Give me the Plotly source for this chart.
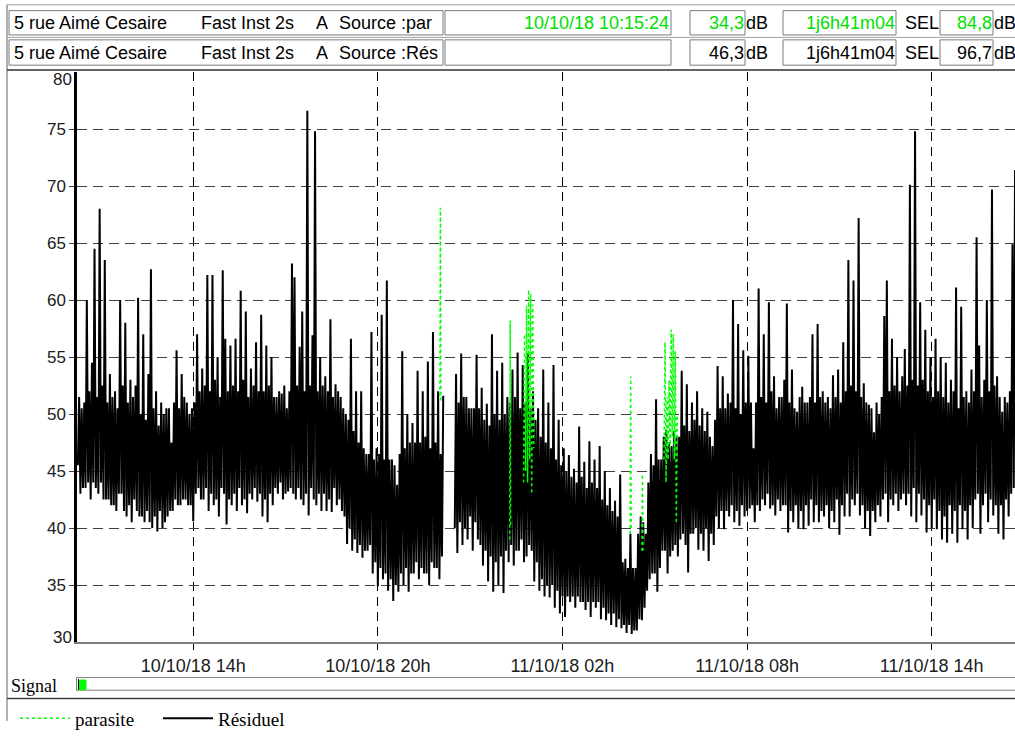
import plotly.graph_objects as go
import pandas as pd

# ---------------- data ----------------
START = "2018-10-10 10:15"
STEP = "150s"   # 2.5 minutes between plotted readings

# Résiduel, dB(A). For each hour (HH:15 .. HH+1:12:30) two lists:
#   *_pk : band edges and peaks, one per 5 minutes
#   *_md : the opposite side of the dense band in the same 5-minute slot
d10_h10_pk = [45.5, 50.5, 43.5, 60.0, 44.0, 54.5, 64.5, 43.5, 68.0, 44.0, 63.5, 42.5]
d10_h10_md = [51.5, 43.0, 51.0, 43.5, 52.0, 42.5, 44.0, 51.5, 43.0, 52.5, 42.5, 51.0]
d10_h11_pk = [53.5, 42.0, 52.0, 41.5, 60.0, 43.0, 58.0, 41.0, 53.0, 40.5, 52.5, 60.2]
d10_h11_md = [42.5, 51.5, 42.0, 50.5, 43.0, 52.5, 41.5, 51.0, 42.0, 51.5, 42.5, 41.5]
d10_h12_pk = [41.0, 57.0, 40.5, 53.5, 62.7, 40.0, 52.0, 39.7, 51.0, 40.0, 50.5, 41.0]
d10_h12_md = [50.0, 41.0, 49.5, 41.5, 40.5, 50.5, 41.0, 49.0, 41.5, 50.0, 40.5, 50.5]
d10_h13_pk = [47.5, 41.5, 55.6, 42.0, 53.5, 42.5, 51.0, 42.0, 50.5, 40.6, 57.0, 43.5]
d10_h13_md = [41.5, 51.0, 42.5, 50.5, 42.0, 51.5, 42.5, 50.0, 42.0, 51.0, 43.0, 52.0]
d10_h14_pk = [54.0, 42.5, 62.2, 41.5, 62.2, 42.0, 55.0, 41.0, 62.6, 56.6, 40.3, 56.0]
d10_h14_md = [42.5, 52.5, 43.5, 52.0, 43.0, 53.0, 42.5, 51.5, 43.5, 43.0, 52.0, 42.5]
d10_h15_pk = [42.0, 56.6, 41.5, 60.8, 42.0, 59.0, 41.3, 54.0, 42.5, 56.3, 42.3, 58.7]
d10_h15_md = [52.5, 43.0, 52.0, 43.5, 53.0, 42.5, 51.5, 43.0, 52.5, 43.5, 52.0, 43.0]
d10_h16_pk = [41.0, 56.0, 40.5, 55.0, 42.0, 51.5, 43.0, 51.8, 42.5, 50.5, 43.2, 63.2]
d10_h16_md = [52.0, 42.5, 52.5, 43.0, 51.5, 43.5, 52.0, 44.0, 52.5, 43.0, 52.0, 43.5]
d10_h17_pk = [62.0, 42.5, 55.9, 59.0, 42.0, 76.6, 41.1, 56.9, 74.8, 42.0, 55.0, 41.5]
d10_h17_md = [43.0, 52.5, 43.5, 42.5, 52.0, 43.0, 52.5, 43.5, 42.5, 52.0, 43.0, 52.5]
d10_h18_pk = [53.3, 41.5, 58.3, 41.4, 52.6, 42.0, 51.5, 41.5, 50.0, 38.6, 56.6, 38.0]
d10_h18_md = [43.0, 52.0, 42.5, 51.5, 43.5, 52.0, 42.5, 50.5, 41.0, 49.5, 40.0, 48.5]
d10_h19_pk = [52.0, 37.8, 52.0, 37.4, 46.5, 38.0, 57.2, 36.0, 47.0, 34.9, 58.7, 35.5]
d10_h19_md = [39.0, 47.5, 38.5, 47.0, 38.0, 46.5, 38.5, 46.0, 37.0, 46.5, 36.5, 46.0]
d10_h20_pk = [61.7, 34.5, 46.0, 33.6, 43.8, 34.4, 55.5, 35.0, 50.0, 34.4, 49.2, 36.0]
d10_h20_md = [36.0, 46.0, 35.5, 45.5, 35.0, 46.5, 36.0, 47.0, 36.5, 47.5, 36.0, 47.5]
d10_h21_pk = [53.8, 35.5, 52.0, 36.0, 54.6, 35.0, 57.2, 36.5, 52.0, 35.5, 51.6, None]
d10_h21_md = [37.0, 47.5, 36.5, 48.0, 36.0, 47.0, 37.0, 47.5, 36.5, 46.5, 37.5, None]
d10_h22_pk = [None, None, None, 53.5, 37.8, 55.3, 38.5, 51.5, 39.0, 50.5, 38.0, 55.2]
d10_h22_md = [None, None, None, 40.0, 51.0, 40.5, 51.5, 40.0, 50.5, 41.0, 50.5, 40.5]
d10_h23_pk = [39.0, 52.3, 36.7, 50.9, 35.3, 57.0, 34.4, 53.8, 35.0, 54.5, 34.3, 51.5]
d10_h23_md = [50.5, 38.5, 49.5, 38.0, 49.0, 37.5, 50.0, 37.0, 49.5, 37.5, 50.0, 38.0]
d11_h00_pk = [37.0, 53.9, 36.7, 55.4, 38.0, 54.3, 37.0, 55.3, 38.5, 52.0, 35.3, 50.5]
d11_h00_md = [51.0, 38.5, 51.5, 38.0, 50.5, 39.0, 51.0, 37.5, 50.5, 38.0, 49.5, 37.0]
d11_h01_pk = [34.5, 53.9, 34.0, 51.0, 33.9, 54.3, 33.0, 49.5, 32.5, 47.0, 32.2, 46.4]
d11_h01_md = [48.0, 35.5, 47.5, 35.0, 47.0, 35.0, 46.0, 34.5, 45.5, 34.0, 45.0, 34.0]
d11_h02_pk = [33.5, 45.2, 33.0, 48.9, 33.5, 45.8, 32.8, 47.6, 32.2, 46.0, 33.0, 47.2]
d11_h02_md = [44.5, 34.0, 44.0, 34.0, 44.5, 33.5, 43.5, 33.5, 44.0, 33.5, 43.5, 33.5]
d11_h03_pk = [32.0, 45.0, 31.9, 43.5, 31.5, 42.4, 31.3, 44.7, 31.2, 37.3, 30.8, 39.5]
d11_h03_md = [42.5, 33.0, 42.0, 32.5, 41.5, 32.5, 41.0, 32.0, 37.0, 31.5, 36.5, 31.5]
d11_h04_pk = [30.7, 36.5, 31.0, 41.0, 31.9, 39.5, 34.5, 46.5, 36.0, 51.3, 34.4, 46.0]
d11_h04_md = [36.5, 31.0, 39.5, 32.0, 40.5, 33.0, 44.0, 35.5, 45.5, 36.0, 46.0, 36.5]
d11_h05_pk = [38.0, 48.6, 36.0, 47.2, 38.0, 48.0, 37.5, 53.8, 39.5, 52.6, 36.1, 51.0]
d11_h05_md = [48.0, 38.0, 47.5, 37.5, 48.5, 38.5, 48.0, 39.0, 49.0, 38.5, 48.5, 39.5]
d11_h06_pk = [39.5, 52.0, 38.1, 50.5, 38.0, 50.2, 37.1, 47.2, 38.5, 54.2, 40.0, 53.3]
d11_h06_md = [49.5, 40.0, 49.0, 39.5, 48.5, 40.0, 48.0, 39.5, 49.5, 41.0, 50.5, 41.5]
d11_h07_pk = [39.9, 51.8, 41.0, 60.0, 40.5, 57.9, 40.2, 55.6, 41.0, 55.1, 41.7, 47.0]
d11_h07_md = [50.5, 41.5, 51.0, 42.0, 50.5, 41.5, 50.0, 42.0, 51.0, 41.5, 51.0, 42.0]
d11_h08_pk = [40.5, 61.0, 41.5, 57.0, 42.0, 59.8, 41.7, 53.3, 41.1, 51.5, 41.5, 53.0]
d11_h08_md = [51.0, 42.0, 51.5, 42.5, 51.0, 43.0, 52.0, 42.0, 50.5, 42.5, 51.5, 42.0]
d11_h09_pk = [59.7, 39.6, 53.9, 40.5, 50.2, 40.0, 52.4, 39.9, 51.0, 40.2, 57.0, 40.5]
d11_h09_md = [42.0, 51.0, 41.5, 50.5, 42.0, 51.5, 41.5, 51.0, 42.0, 51.5, 42.5, 51.0]
d11_h10_pk = [57.9, 40.5, 52.0, 41.0, 51.5, 40.0, 53.4, 40.5, 53.9, 39.4, 56.3, 41.0]
d11_h10_md = [42.0, 51.5, 41.5, 51.0, 42.0, 50.5, 41.5, 51.5, 42.5, 51.0, 42.0, 52.0]
d11_h11_pk = [63.5, 41.0, 61.7, 42.0, 67.2, 41.1, 52.7, 40.0, 50.8, 39.3, 48.4, 40.5]
d11_h11_md = [43.0, 52.5, 42.5, 52.0, 43.0, 51.5, 42.0, 51.0, 41.5, 50.5, 41.5, 51.0]
d11_h12_pk = [50.0, 41.0, 58.6, 61.7, 40.5, 56.6, 42.0, 55.0, 41.5, 53.3, 55.7, 42.0]
d11_h12_md = [42.0, 51.5, 42.5, 43.0, 52.0, 42.5, 52.5, 43.0, 52.0, 42.5, 43.0, 52.5]
d11_h13_pk = [70.1, 41.0, 74.8, 40.5, 59.8, 41.1, 57.4, 39.6, 55.0, 40.0, 56.6, 39.9]
d11_h13_md = [43.0, 53.0, 43.5, 52.5, 43.0, 53.0, 42.5, 52.0, 42.0, 51.5, 42.5, 52.0]
d11_h14_pk = [55.0, 39.0, 54.5, 38.7, 53.0, 39.5, 61.1, 38.7, 59.4, 39.9, 52.0, 39.0]
d11_h14_md = [41.5, 51.5, 41.0, 51.0, 42.0, 52.0, 41.5, 50.5, 42.0, 51.5, 41.5, 51.0]
d11_h15_pk = [53.9, 40.0, 65.5, 56.0, 39.5, 53.0, 60.0, 40.5, 69.7, 41.1, 53.3, 39.5]
d11_h15_md = [42.0, 52.0, 42.5, 43.0, 51.5, 42.0, 43.0, 52.0, 42.5, 52.5, 42.0, 51.5]
d11_h16_pk = [50.2, 39.0, 51.0, 41.0, 64.9, 71.4, 42.3, 50.0]
d11_h16_md = [42.0, 51.5, 42.5, 52.0, 43.0, 43.5, 52.5, 42.5]

hour_pairs = [
    (d10_h10_pk, d10_h10_md), (d10_h11_pk, d10_h11_md), (d10_h12_pk, d10_h12_md),
    (d10_h13_pk, d10_h13_md), (d10_h14_pk, d10_h14_md), (d10_h15_pk, d10_h15_md),
    (d10_h16_pk, d10_h16_md), (d10_h17_pk, d10_h17_md), (d10_h18_pk, d10_h18_md),
    (d10_h19_pk, d10_h19_md), (d10_h20_pk, d10_h20_md), (d10_h21_pk, d10_h21_md),
    (d10_h22_pk, d10_h22_md), (d10_h23_pk, d10_h23_md), (d11_h00_pk, d11_h00_md),
    (d11_h01_pk, d11_h01_md), (d11_h02_pk, d11_h02_md), (d11_h03_pk, d11_h03_md),
    (d11_h04_pk, d11_h04_md), (d11_h05_pk, d11_h05_md), (d11_h06_pk, d11_h06_md),
    (d11_h07_pk, d11_h07_md), (d11_h08_pk, d11_h08_md), (d11_h09_pk, d11_h09_md),
    (d11_h10_pk, d11_h10_md), (d11_h11_pk, d11_h11_md), (d11_h12_pk, d11_h12_md),
    (d11_h13_pk, d11_h13_md), (d11_h14_pk, d11_h14_md), (d11_h15_pk, d11_h15_md),
    (d11_h16_pk, d11_h16_md),
]

# each 5-minute slot is drawn low side first, then high side (the band's fast swing)
residuel = []
for pk, md in hour_pairs:
    for a, b in zip(pk, md):
        if a is None or b is None:
            residuel += [a, b]
        else:
            residuel += [min(a, b), max(a, b)]
residuel_times = pd.date_range(START, periods=len(residuel), freq=STEP)

# parasite (coded source), dB(A)
parasite_times = [
    "2018-10-10 22:01", "2018-10-10 22:02", "2018-10-10 22:03", "2018-10-10 22:04",
    "2018-10-11 00:17", "2018-10-11 00:18", "2018-10-11 00:19", "2018-10-11 00:20",
    "2018-10-11 00:44", "2018-10-11 00:46", "2018-10-11 00:48", "2018-10-11 00:50",
    "2018-10-11 00:52", "2018-10-11 00:54", "2018-10-11 00:56", "2018-10-11 00:58",
    "2018-10-11 01:00", "2018-10-11 01:02", "2018-10-11 01:04", "2018-10-11 01:05",
    "2018-10-11 04:12", "2018-10-11 04:13", "2018-10-11 04:14", "2018-10-11 04:15",
    "2018-10-11 04:35", "2018-10-11 04:36", "2018-10-11 04:37", "2018-10-11 04:38",
    "2018-10-11 05:18", "2018-10-11 05:20", "2018-10-11 05:22", "2018-10-11 05:24",
    "2018-10-11 05:26", "2018-10-11 05:28", "2018-10-11 05:30", "2018-10-11 05:32",
    "2018-10-11 05:34", "2018-10-11 05:36", "2018-10-11 05:38", "2018-10-11 05:40",
    "2018-10-11 05:42", "2018-10-11 05:44",
]
parasite_vals = [
    51.6, 68.1, 51.0, None,
    39.0, 58.2, 40.0, None,
    44.0, 57.0, 45.0, 59.5,
    44.0, 60.9, 46.0, 60.5,
    43.0, 59.6, 47.0, None,
    39.5, 53.3, 40.0, None,
    38.0, 44.7, 38.0, None,
    46.0, 56.3, 44.0, 51.5,
    46.0, 53.0, 47.0, 57.4,
    48.0, 57.0, 46.0, 55.5,
    40.4, 50.0,
]

x_tick_times = ["2018-10-10 14:00", "2018-10-10 20:00", "2018-10-11 02:00",
                "2018-10-11 08:00", "2018-10-11 14:00"]
x_tick_labels = ["10/10/18 14h", "10/10/18 20h", "11/10/18 02h",
                 "11/10/18 08h", "11/10/18 14h"]
y_tick_vals = [35, 40, 45, 50, 55, 60, 65, 70, 75]
y_range = [30, 80]
x_range = ["2018-10-10 10:13:20", "2018-10-11 16:42:25"]

site = "5 rue Aimé Cesaire"
mode = "Fast Inst 2s"
weighting = "A"
sources = ["Source :par", "Source :Rés"]
start_stamp = "10/10/18 10:15:24"
leq_values = ["34,3", "46,3"]
durations = ["1j6h41m04", "1j6h41m04"]
sel_values = ["84,8", "96,7"]
row_colors = ["#00E000", "#000000"]

# ---------------- layout helpers ----------------
W, H = 1015, 738
ML, MR, MT, MB = 77, 0, 72, 81
PW, PH = W - ML - MR, H - MT - MB
SANS = "Liberation Sans, Arial, sans-serif"
SERIF = "Liberation Serif, Times New Roman, serif"


def px(x):
    return (x - ML) / PW


def py(y):
    return (H - MB - y) / PH


shapes = []
annotations = []


def hline(x0, x1, y, color="#808080", width=1):
    shapes.append(dict(type="line", xref="paper", yref="paper", x0=px(x0), x1=px(x1),
                       y0=py(y), y1=py(y), line=dict(color=color, width=width)))


def vline(x, y0, y1, color="#808080", width=1):
    shapes.append(dict(type="line", xref="paper", yref="paper", x0=px(x), x1=px(x),
                       y0=py(y0), y1=py(y1), line=dict(color=color, width=width)))


def box(x0, x1, y0, y1, color="#7a7a7a", fill="rgba(0,0,0,0)", width=1):
    shapes.append(dict(type="rect", xref="paper", yref="paper", x0=px(x0), x1=px(x1),
                       y0=py(y1), y1=py(y0), line=dict(color=color, width=width),
                       fillcolor=fill))


def text(x, y, s, anchor="left", color="#000000", size=18, family=SANS):
    annotations.append(dict(xref="paper", yref="paper", x=px(x), y=py(y), text=s,
                            showarrow=False, xanchor=anchor, yanchor="middle",
                            font=dict(family=family, size=size, color=color),
                            borderpad=0))


# outer frame
hline(7, 1015, 3, "#a0a0a0")
vline(7, 3, 738, "#606060")
hline(7, 1015, 36.5, "#a0a0a0")
hline(7, 1015, 70, "#303030", 1.5)

# header rows
for i, (yt, yb) in enumerate([(9, 34), (39, 65)]):
    yc = (yt + yb) / 2
    box(9, 443, yt, yb)
    box(445, 671, yt, yb)
    box(690, 745, yt, yb)
    box(783, 896, yt, yb)
    box(940, 993, yt, yb)
    text(13, yc, site)
    text(200, yc, mode)
    text(315, yc, weighting)
    text(338, yc, sources[i])
    if i == 0:
        text(670, yc, start_stamp, "right", row_colors[0])
    text(745, yc, leq_values[i], "right", row_colors[i])
    text(745, yc, "dB", "left")
    text(896, yc, durations[i], "right", row_colors[i])
    text(904, yc, "SEL", "left")
    text(993, yc, sel_values[i], "right", row_colors[i])
    text(993, yc, "dB", "left")

# y-axis end labels
text(73, 80, "80", "right", "#202020", 17)
text(73, 652.5, "30", "right", "#202020", 17)

# signal bar
text(10, 702, "Signal", "left", "#000000", 18, SERIF)
hline(76, 1015, 693.5, "#808080")
hline(76, 1015, 706.5, "#808080")
vline(76.5, 693.5, 706.5, "#808080")
vline(78.5, 695, 706, "#000000")
box(79.5, 86, 696, 706, color="#00FF00", fill="#00FF00")
hline(7, 1015, 715, "#404040", 1.5)

fig = go.Figure()
fig.add_trace(go.Scatter(
    x=residuel_times, y=residuel, mode="lines", name="Résiduel",
    line=dict(color="#000000", width=2.0), connectgaps=False, legendrank=2,
))
fig.add_trace(go.Scatter(
    x=pd.to_datetime(parasite_times), y=parasite_vals, mode="lines", name="parasite",
    line=dict(color="#00FF00", width=1.5, dash="dot"), connectgaps=False, legendrank=1,
))

fig.update_layout(
    width=W, height=H, autosize=False,
    margin=dict(l=ML, r=MR, t=MT, b=MB, pad=0),
    paper_bgcolor="white", plot_bgcolor="white",
    showlegend=True,
    legend=dict(orientation="h", x=px(15), xanchor="left", y=py(716), yanchor="top",
                font=dict(family=SERIF, size=19, color="#000000"),
                itemwidth=50, entrywidth=78, entrywidthmode="pixels",
                bgcolor="rgba(0,0,0,0)", tracegroupgap=0),
    shapes=shapes, annotations=annotations,
    xaxis=dict(type="date", range=x_range, tickvals=x_tick_times, ticktext=x_tick_labels,
               showgrid=True, gridcolor="#000000", gridwidth=1, griddash="9px,6px",
               ticks="outside", ticklen=6, tickcolor="#000000", tickwidth=1,
               tickfont=dict(family=SANS, size=18, color="#202020"),
               showline=True, linecolor="#808080", linewidth=2, zeroline=False),
    yaxis=dict(range=y_range, tickvals=y_tick_vals,
               showgrid=True, gridcolor="#404040", gridwidth=1, griddash="10px,6px",
               ticks="outside", ticklen=5, tickcolor="#404040", tickwidth=1,
               tickfont=dict(family=SANS, size=17, color="#202020"),
               showline=True, linecolor="#000000", linewidth=2.5, zeroline=False),
    hovermode=False,
)

fig.write_html("out.html", config={"displayModeBar": False},
               post_script="document.body.style.margin='0';")
